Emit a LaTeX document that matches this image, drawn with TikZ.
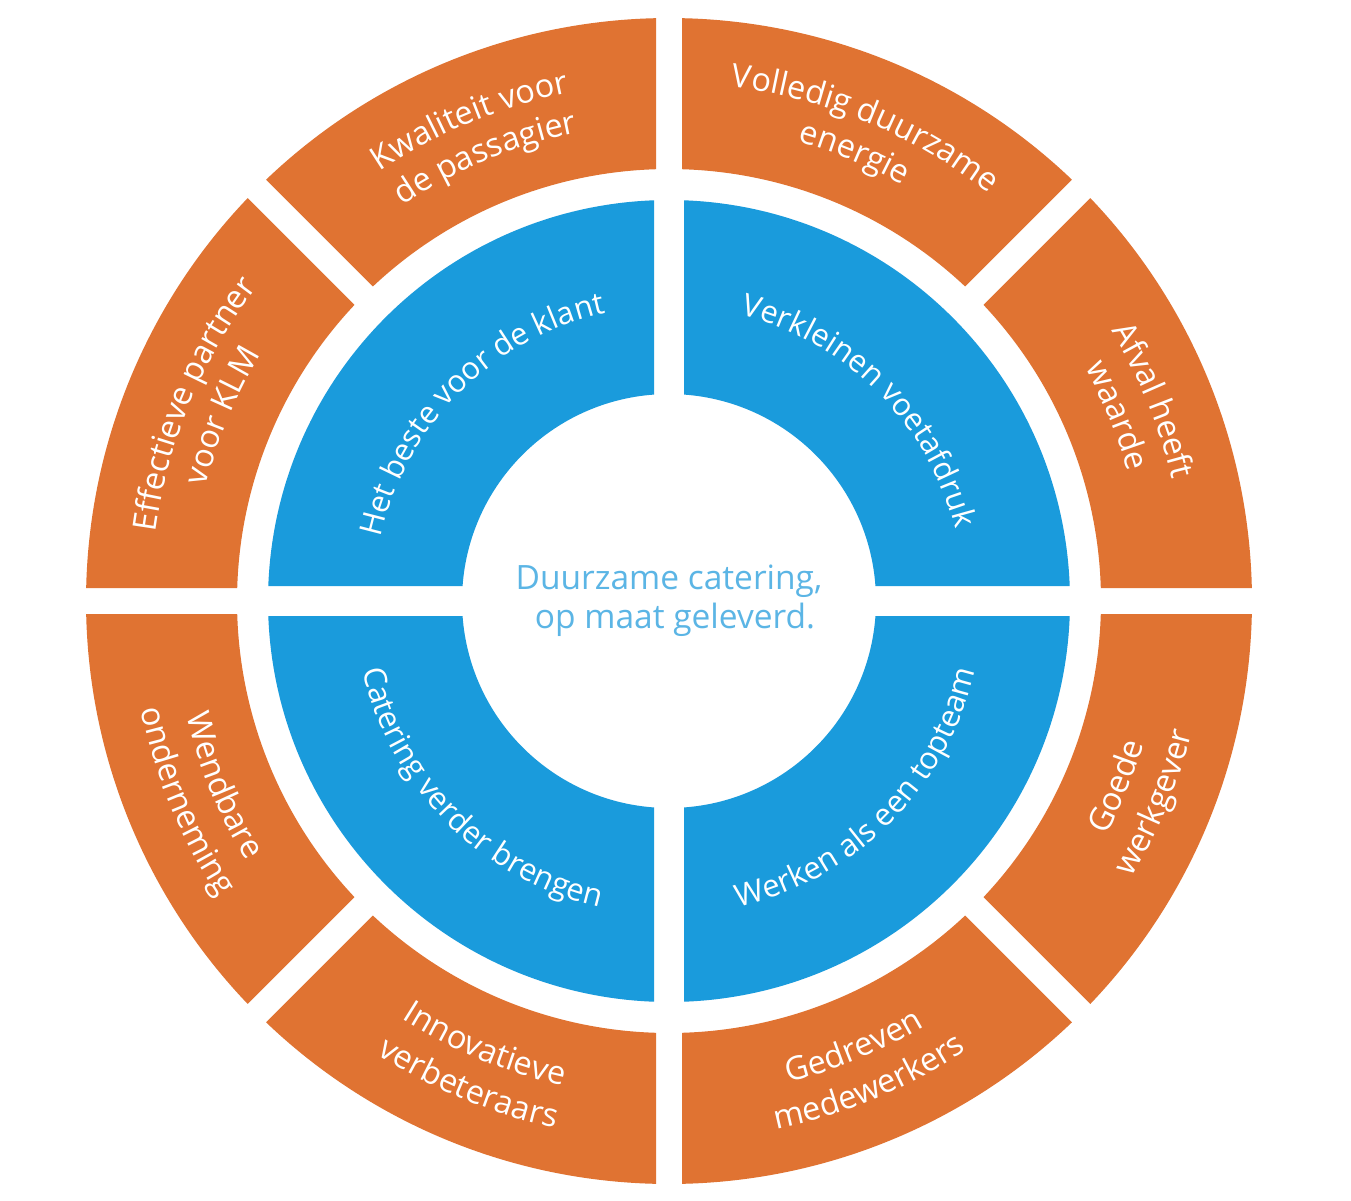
\documentclass[tikz,border=0pt]{standalone}
\usepackage{fontspec}
\setmainfont{Open Sans}
\usetikzlibrary{decorations.text}
\definecolor{korange}{HTML}{E07332}
\definecolor{kblue}{HTML}{1A9BDC}
\definecolor{kltblue}{HTML}{5BB5E5}
\newcommand{\lblfont}{\fontsize{31}{36}\selectfont}
\newcommand{\orgfont}{\fontsize{32.5}{36}\selectfont}
\newcommand{\ringsector}[6]{%
  \pgfmathsetmacro\aRo{#1+asin(#5/#4)}%
  \pgfmathsetmacro\bRo{#2-asin(#5/#4)}%
  \pgfmathsetmacro\aRi{#1+asin(#5/#3)}%
  \pgfmathsetmacro\bRi{#2-asin(#5/#3)}%
  \fill[#6] (\aRo:#4) arc[start angle=\aRo, end angle=\bRo, radius=#4]
     -- (\bRi:#3) arc[start angle=\bRi, end angle=\aRi, radius=#3] -- cycle;
}
\newcommand{\arctext}[5]{%
  \path[decorate, decoration={text along path, text align=center, text color=white,
     text={|#5|#4}}] (#1:#3) arc[start angle=#1, end angle=#2, radius=#3];
}
\begin{document}
\begin{tikzpicture}[x=1pt,y=1pt]
\useasboundingbox (0,0) rectangle (1351,-1200);
\fill[white] (0,0) rectangle (1351,-1200);
\begin{scope}[shift={(669,-601)}]
  % blue quadrants
  \foreach \a in {0,90,180,270} {
    \ringsector{\a}{\a+90}{207}{401}{15}{kblue}
  }
  % orange segments
  \foreach \a in {0,45,...,315} {
    \ringsector{\a}{\a+45}{432}{583}{13}{korange}
  }
  % blue texts
  \arctext{180}{90}{295}{Het beste voor de klant}{\lblfont}
  \arctext{90}{0}{295}{Verkleinen voetafdruk}{\lblfont}
  \arctext{180}{270}{314}{Catering verder brengen}{\lblfont}
  \arctext{270}{360}{314}{Werken als een topteam}{\lblfont}
  % orange texts, upper half (clockwise)
  \arctext{135}{90}{518}{Kwaliteit voor}{\orgfont}
  \arctext{135}{90}{477}{de passagier}{\orgfont}
  \arctext{90}{45}{518}{Volledig duurzame}{\orgfont}
  \arctext{90}{45}{477}{energie}{\orgfont}
  \arctext{45}{0}{518}{Afval heeft}{\orgfont}
  \arctext{45}{0}{477}{waarde}{\orgfont}
  \arctext{180}{135}{518}{Effectieve partner}{\orgfont}
  \arctext{180}{135}{477}{voor KLM}{\orgfont}
  % orange texts, lower half (counter-clockwise)
  \arctext{180}{225}{496}{Wendbare}{\orgfont}
  \arctext{180}{225}{539}{onderneming}{\orgfont}
  \arctext{225}{270}{496}{Innovatieve}{\orgfont}
  \arctext{225}{270}{539}{verbeteraars}{\orgfont}
  \arctext{270}{315}{496}{Gedreven}{\orgfont}
  \arctext{270}{315}{539}{medewerkers}{\orgfont}
  \arctext{315}{360}{496}{Goede}{\orgfont}
  \arctext{315}{360}{539}{werkgever}{\orgfont}
  % centre text
  \node[text=kltblue, align=center, font=\fontsize{33.5}{39}\selectfont] (centre) at (0,0) {Duurzame catering,\\ \hspace*{12pt}op maat geleverd.};
\end{scope}
\end{tikzpicture}
\end{document}
